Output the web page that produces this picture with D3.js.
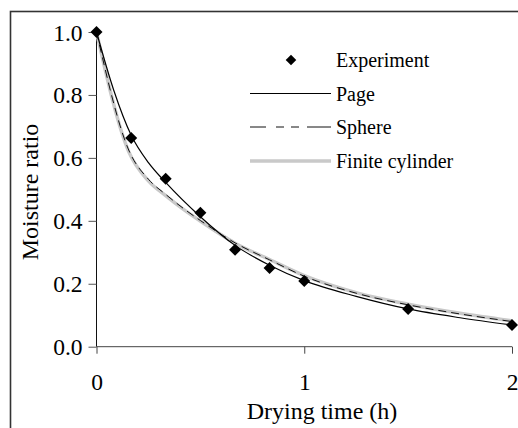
<!DOCTYPE html>
<html>
<head>
<meta charset="utf-8">
<script src="https://cdn.jsdelivr.net/npm/d3@7"></script>
<style>
  html, body { margin: 0; padding: 0; background: #fff; }
  svg { display: block; }
  text { font-family: "Liberation Serif", "Times New Roman", serif; fill: #000; }
</style>
</head>
<body>
<svg id="chart" width="518" height="428"></svg>
<script>
// Drying time (h) and measured moisture ratio
const expTime = [0, 0.167, 0.333, 0.5, 0.667, 0.833, 1, 1.5, 2];
const expMR   = [1.0, 0.663, 0.534, 0.426, 0.308, 0.25, 0.209, 0.12, 0.069];

// Page model
const pageTime = [0, 0.083, 0.167, 0.25, 0.333, 0.5, 0.667, 0.833, 1, 1.25, 1.5, 1.75, 2];
const pageMR   = [1.0, 0.815, 0.672, 0.585, 0.522, 0.413, 0.322, 0.259, 0.21, 0.16, 0.12, 0.092, 0.069];

// Diffusion model, sphere geometry
const sphereTime = [0, 0.155, 0.25, 0.333, 0.417, 0.5, 0.667, 0.833, 1, 1.25, 1.5, 1.75, 2];
const sphereMR   = [1.0, 0.625, 0.532, 0.484, 0.44, 0.401, 0.33, 0.276, 0.224, 0.17, 0.133, 0.104, 0.08];

// Diffusion model, finite cylinder geometry
const cylTime = [0, 0.155, 0.25, 0.333, 0.417, 0.5, 0.667, 0.833, 1, 1.25, 1.5, 1.75, 2];
const cylMR   = [1.0, 0.62, 0.527, 0.48, 0.437, 0.399, 0.329, 0.277, 0.226, 0.172, 0.135, 0.106, 0.082];

const xTicks = [0, 1, 2];
const yTicks = [0, 0.2, 0.4, 0.6, 0.8, 1.0];
const legendLabels = ["Experiment", "Page", "Sphere", "Finite cylinder"];

const svg = d3.select("#chart");

// outer frame (runs off the right and bottom edges)
svg.append("rect")
  .attr("x", 10.5).attr("y", 11.5)
  .attr("width", 540).attr("height", 440)
  .attr("fill", "none").attr("stroke", "#333").attr("stroke-width", 1.6);

const x = d3.scaleLinear().domain([0, 2]).range([96.5, 512]);
const y = d3.scaleLinear().domain([0, 1]).range([346.7, 32]);

// y axis
const yAxis = svg.append("g")
  .attr("transform", `translate(${x(0)},0)`)
  .call(d3.axisLeft(y).tickValues(yTicks).tickFormat(d3.format(".1f")).tickSize(8).tickPadding(6));
yAxis.select(".domain").attr("stroke", "#111").attr("d", `M0,${y(0)}V${y(1)}`);
yAxis.selectAll(".tick line").attr("stroke", "#555");
yAxis.selectAll(".tick text")
  .style("font-family", '"Liberation Serif", "Times New Roman", serif')
  .style("font-size", "23.5px").attr("fill", "#000").attr("dy", "0.34em");

// x axis
const xAxis = svg.append("g")
  .attr("transform", `translate(0,${y(0)})`)
  .call(d3.axisBottom(x).tickValues(xTicks).tickFormat(d3.format("d")).tickSize(7).tickPadding(20));
xAxis.select(".domain").attr("stroke", "#444").attr("d", `M${x(0)},0H${x(2)}`);
xAxis.selectAll(".tick line").attr("stroke", "#444");
xAxis.selectAll(".tick text")
  .style("font-family", '"Liberation Serif", "Times New Roman", serif')
  .style("font-size", "23.5px").attr("fill", "#000");

// axis titles
svg.append("text")
  .attr("x", 322).attr("y", 419)
  .attr("text-anchor", "middle")
  .style("font-size", "24px")
  .text("Drying time (h)");

svg.append("text")
  .attr("transform", "translate(38,192) rotate(-90)")
  .attr("text-anchor", "middle")
  .style("font-size", "24px")
  .text("Moisture ratio");

const line = d3.line()
  .x(d => x(d[0]))
  .y(d => y(d[1]))
  .curve(d3.curveMonotoneX);

const zip = (a, b) => a.map((v, i) => [v, b[i]]);

// model curves
svg.append("path")
  .datum(zip(cylTime, cylMR))
  .attr("d", line)
  .attr("fill", "none").attr("stroke", "#c9c9c9").attr("stroke-width", 3.5);

svg.append("path")
  .datum(zip(sphereTime, sphereMR))
  .attr("d", line)
  .attr("fill", "none").attr("stroke", "#111").attr("stroke-width", 1)
  .attr("stroke-dasharray", "8,5");

svg.append("path")
  .datum(zip(pageTime, pageMR))
  .attr("d", line)
  .attr("fill", "none").attr("stroke", "#000").attr("stroke-width", 1.2);

// experimental points
const diamond = d3.symbol(d3.symbolSquare, 72);
svg.append("g").selectAll("path")
  .data(zip(expTime, expMR))
  .join("path")
  .attr("d", diamond)
  .attr("transform", d => `translate(${x(d[0])},${y(d[1])}) rotate(45)`)
  .attr("fill", "#000");

// legend
const lg = svg.append("g");
const rowY = [60, 93.5, 127, 161];
const lx0 = 250, lx1 = 331, tx = 336;

lg.append("path")
  .attr("d", d3.symbol(d3.symbolSquare, 56))
  .attr("transform", `translate(291,${rowY[0]}) rotate(45)`)
  .attr("fill", "#000");

lg.append("line")
  .attr("x1", lx0).attr("x2", lx1).attr("y1", rowY[1]).attr("y2", rowY[1])
  .attr("stroke", "#000").attr("stroke-width", 1.2);

lg.append("line")
  .attr("x1", lx0).attr("x2", lx1).attr("y1", rowY[2]).attr("y2", rowY[2])
  .attr("stroke", "#111").attr("stroke-width", 1)
  .attr("stroke-dasharray", "16,10,8,7,8,8,24");

lg.append("line")
  .attr("x1", lx0).attr("x2", lx1).attr("y1", rowY[3]).attr("y2", rowY[3])
  .attr("stroke", "#c9c9c9").attr("stroke-width", 3.5);

lg.selectAll("text.lab")
  .data(legendLabels)
  .join("text")
  .attr("class", "lab")
  .attr("x", tx)
  .attr("y", (d, i) => rowY[i] + 7)
  .style("font-size", "20px")
  .text(d => d);
</script>
</body>
</html>
